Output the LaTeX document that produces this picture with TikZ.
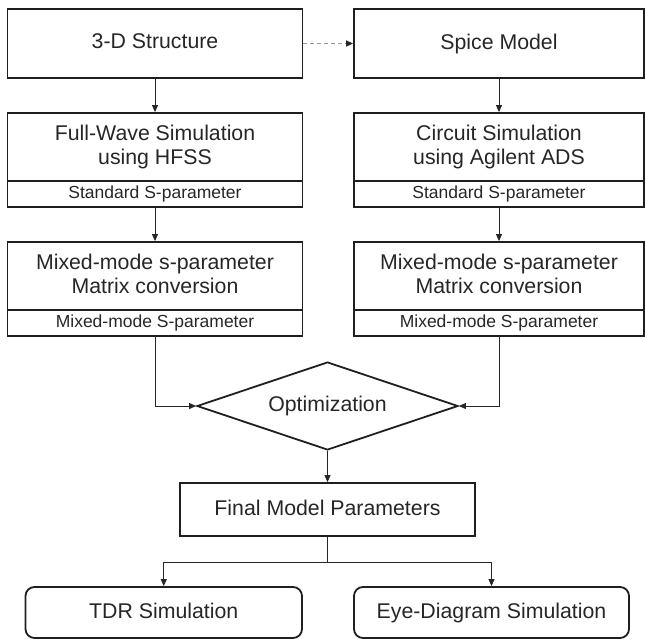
\documentclass[tikz,border=0pt]{standalone}
\usepackage{fontspec}
\setmainfont{Liberation Sans}
\usetikzlibrary{arrows.meta,shapes.geometric}
\newcommand{\dsc}{\vphantom{gy}}
\begin{document}
\begin{tikzpicture}[x=1pt,y=-1pt,
  box/.style={draw=black!88, line width=1.8pt, inner sep=0pt, align=center, text=black!85, font=\fontsize{21.3}{24}\selectfont},
  subA/.style={box, font=\fontsize{17.5}{20}\selectfont},
  subB/.style={box, font=\fontsize{17.5}{20}\selectfont},
  rbox/.style={box, rounded corners=9pt},
  lin/.style={draw=black!85, line width=0.9pt},
  conn/.style={lin, -{Triangle[length=7pt,width=6pt]}},
  dconn/.style={draw=black!40, line width=1.3pt, dash pattern=on 4pt off 3pt, -{Triangle[length=7pt,width=6pt,color=black!85]}},
  dia/.style={box, shape=diamond, aspect=3, minimum width=261pt, minimum height=88pt}
]
\useasboundingbox (0,0) rectangle (645,640);
% top row
\node[box, minimum width=295pt, minimum height=69pt] (t3d) at (155,43.5) {3-D Structure\dsc};
\node[box, minimum width=290pt, minimum height=69pt] (spice) at (499,43.5) {Spice Model\dsc};
% simulation row
\node[box, minimum width=295pt, minimum height=68pt] (fw) at (155,147) {Full-Wave Simulation\\using HFSS\dsc};
\node[subA, minimum width=295pt, minimum height=26pt] (fws) at (155,194) {Standard S-parameter\dsc};
\node[box, minimum width=290pt, minimum height=68pt] (cs) at (499,147) {Circuit Simulation\\using Agilent ADS\dsc};
\node[subA, minimum width=290pt, minimum height=26pt] (css) at (499,194) {Standard S-parameter\dsc};
% mixed-mode row
\node[box, minimum width=295pt, minimum height=68pt] (ml) at (155,276) {Mixed-mode s-parameter\\Matrix conversion\dsc};
\node[subB, minimum width=295pt, minimum height=26pt] (mls) at (155,323) {Mixed-mode S-parameter\dsc};
\node[box, minimum width=290pt, minimum height=68pt] (mr) at (499,276) {Mixed-mode s-parameter\\Matrix conversion\dsc};
\node[subB, minimum width=290pt, minimum height=26pt] (mrs) at (499,323) {Mixed-mode S-parameter\dsc};
% optimization
\node[dia] (opt) at (327.5,406) {Optimization\dsc};
\node[box, minimum width=295pt, minimum height=53pt] (fin) at (327.5,509.5) {Final Model Parameters\dsc};
% outputs
\node[rbox, minimum width=276.5pt, minimum height=51pt] (tdr) at (163.75,612.5) {TDR Simulation\dsc};
\node[rbox, minimum width=275pt, minimum height=51pt] (eye) at (491.5,612.5) {Eye-Diagram Simulation\dsc};
% connectors
\draw[dconn] (t3d.east) -- (spice.west);
\draw[conn] (t3d.south) -- (fw.north);
\draw[conn] (spice.south) -- (cs.north);
\draw[conn] (fws.south) -- (ml.north);
\draw[conn] (css.south) -- (mr.north);
\draw[conn] (mls.south) |- (opt.west);
\draw[conn] (mrs.south) |- (opt.east);
\draw[conn] (opt.south) -- (fin.north);
\coordinate (br) at (327.5,562);
\draw[lin] (fin.south) -- (br);
\draw[conn] (br) -| (tdr.north);
\draw[conn] (br) -| (eye.north);
\end{tikzpicture}
\end{document}
